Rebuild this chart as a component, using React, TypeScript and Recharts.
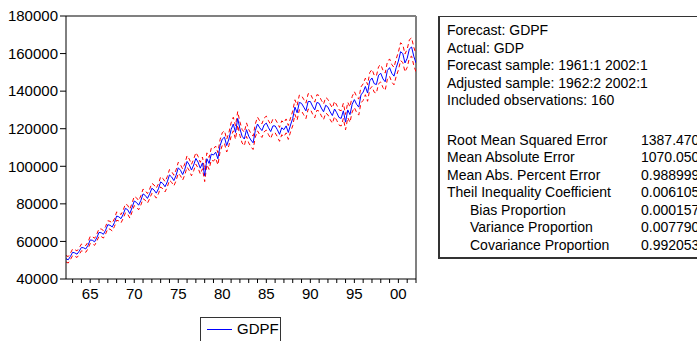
import { LineChart, Line, XAxis, YAxis, ReferenceLine } from "recharts";

// Static forecast GDPF, quarterly, sample 1962:2 - 2002:1 (160 obs)
const sampleStart = 1962.25;

const gdpf = [
  50800, 50200, 52000,
  54200, 53900, 53200, 54800,
  56800, 56600, 56000, 57900,
  60800, 60600, 59800, 62000,
  64800, 64600, 63800, 66000,
  68900, 68600, 67700, 70000,
  73500, 73100, 72100, 74500,
  77600, 76900, 74800, 78000,
  81500, 80800, 79300, 81800,
  85300, 84500, 82900, 85300,
  88300, 87400, 85700, 88000,
  91700, 90800, 89100, 91700,
  95400, 94300, 92400, 95200,
  99200, 97900, 95600, 98500,
  102600, 100800, 98000, 100700,
  104200, 102200, 99000, 101800,
  95000, 104000, 101500, 106500,
  106000, 107500, 104000, 111000,
  114500, 115500, 111000, 114500,
  119500, 122500, 118000, 125500,
  120000, 116000, 114500, 119500,
  116000, 114000, 112500, 119000,
  122500, 120500, 119000, 122000,
  123000, 120500, 118500, 121500,
  121500, 119500, 117000, 120500,
  119500, 121500, 118000, 122000,
  125500, 131500, 128500, 134000,
  133500, 131500, 129500, 134500,
  134500, 132000, 130000, 134000,
  133500, 131000, 129000, 132500,
  131500, 129000, 127000, 130500,
  128500, 126000, 125500, 129500,
  123500, 130000, 127500, 133000,
  135500, 133000, 131500, 138000,
  139500, 142500, 139000, 145500,
  147000, 144000, 143500, 148500,
  149500, 146500, 145000, 151000,
  152500, 149500, 148000, 152500,
  156000, 161000, 160000, 155000,
  157500, 162500, 163500, 158500,
  155000,
];

// +/- 2 S.E. half width of the forecast band
const band = [
  1700, 1700, 1700,
  1750, 1750, 1750, 1750,
  1800, 1800, 1800, 1800,
  1900, 1900, 1900, 1900,
  2000, 2000, 2000, 2000,
  2100, 2100, 2100, 2100,
  2200, 2200, 2200, 2200,
  2350, 2350, 2350, 2350,
  2450, 2450, 2450, 2450,
  2550, 2550, 2550, 2550,
  2650, 2650, 2650, 2650,
  2750, 2750, 2750, 2750,
  2850, 2850, 2850, 2850,
  2950, 2950, 2950, 2950,
  3050, 3050, 3050, 3050,
  3100, 3100, 3100, 3100,
  3150, 3150, 3150, 3150,
  3250, 3250, 3250, 3250,
  3400, 3400, 3400, 3400,
  3600, 3600, 3600, 3600,
  3600, 3600, 3600, 3600,
  3550, 3550, 3550, 3550,
  3650, 3650, 3650, 3650,
  3700, 3700, 3700, 3700,
  3700, 3700, 3700, 3700,
  3700, 3700, 3700, 3700,
  3900, 3900, 3900, 3900,
  4100, 4100, 4100, 4100,
  4150, 4150, 4150, 4150,
  4150, 4150, 4150, 4150,
  4100, 4100, 4100, 4100,
  4050, 4050, 4050, 4050,
  4100, 4100, 4100, 4100,
  4250, 4250, 4250, 4250,
  4400, 4400, 4400, 4400,
  4550, 4550, 4550, 4550,
  4600, 4600, 4600, 4600,
  4650, 4650, 4650, 4650,
  4750, 4750, 4750, 4750,
  4850, 4850, 4850, 4850,
  4800,
];

const yTicks = [40000, 60000, 80000, 100000, 120000, 140000, 160000, 180000];
const yearTicks = [
  1963, 1964, 1965, 1966, 1967, 1968, 1969, 1970, 1971, 1972,
  1973, 1974, 1975, 1976, 1977, 1978, 1979, 1980, 1981, 1982,
  1983, 1984, 1985, 1986, 1987, 1988, 1989, 1990, 1991, 1992,
  1993, 1994, 1995, 1996, 1997, 1998, 1999, 2000, 2001, 2002,
];
const labelYears = [1965, 1970, 1975, 1980, 1985, 1990, 1995, 2000];
const xTickLabels = ["65", "70", "75", "80", "85", "90", "95", "00"];

const statsTop = [
  "Forecast: GDPF",
  "Actual: GDP",
  "Forecast sample: 1961:1 2002:1",
  "Adjusted sample: 1962:2 2002:1",
  "Included observations: 160",
];
const statNames = [
  "Root Mean Squared Error",
  "Mean Absolute Error",
  "Mean Abs. Percent Error",
  "Theil Inequality Coefficient",
  "Bias Proportion",
  "Variance Proportion",
  "Covariance Proportion",
];
const statValues = ["1387.470", "1070.050", "0.988999", "0.006105", "0.000157", "0.007790", "0.992053"];
const statIndent = [false, false, false, false, true, true, true];

const FONT = "'Liberation Sans', Arial, sans-serif";

const rows = gdpf.map((v, i) => ({
  t: sampleStart + i / 4,
  f: v,
  up: v + band[i],
  lo: v - band[i],
}));

const YearTick = ({ x, y, payload }: any) => {
  const k = labelYears.indexOf(payload.value);
  if (k < 0) return <g />;
  return (
    <text x={x} y={y} dy="0.71em" textAnchor="middle" fontSize={15} fill="#000" fontFamily={FONT}>
      {xTickLabels[k]}
    </text>
  );
};

export default function App() {
  const lh = 17.5;
  return (
    <div
      style={{
        position: "fixed",
        left: 0,
        top: 0,
        width: 697,
        height: 341,
        overflow: "hidden",
        background: "#fff",
        fontFamily: FONT,
      }}
    >
      <div style={{ position: "absolute", left: 0, top: 0 }}>
        <LineChart width={430} height={341} data={rows} margin={{ top: 16, right: 14, bottom: 0, left: 0 }}>
          <XAxis
            dataKey="t"
            type="number"
            domain={[sampleStart, 2002]}
            ticks={yearTicks}
            interval={0}
            tickSize={4}
            tickMargin={5}
            tick={<YearTick />}
            stroke="#000"
            height={62}
            allowDataOverflow
          />
          <YAxis
            domain={[40000, 180000]}
            ticks={yTicks}
            interval={0}
            tickSize={6}
            tickMargin={2}
            width={66}
            stroke="#000"
            tick={{ fontSize: 15, fill: "#000", fontFamily: FONT }}
            allowDataOverflow
          />
          <ReferenceLine y={180000} stroke="#808080" strokeWidth={2} />
          <ReferenceLine x={2002} stroke="#808080" strokeWidth={2} />
          <Line dataKey="up" type="linear" stroke="#ff0000" strokeWidth={1} strokeDasharray="4 3" dot={false} isAnimationActive={false} />
          <Line dataKey="lo" type="linear" stroke="#ff0000" strokeWidth={1} strokeDasharray="4 3" dot={false} isAnimationActive={false} />
          <Line dataKey="f" type="linear" stroke="#0000ff" strokeWidth={1} dot={false} isAnimationActive={false} />
        </LineChart>
      </div>

      {/* legend */}
      <div
        style={{
          position: "absolute",
          left: 200,
          top: 317,
          width: 81,
          height: 40,
          border: "1px solid #333",
          boxSizing: "border-box",
        }}
      >
        <div style={{ position: "absolute", left: 6, top: 11, width: 25, height: 1, background: "#0000ff" }} />
        <div style={{ position: "absolute", left: 36, top: 2, fontSize: 15, lineHeight: "18px", color: "#000" }}>GDPF</div>
      </div>

      {/* forecast evaluation table */}
      <div
        style={{
          position: "absolute",
          left: 438,
          top: 16,
          width: 300,
          height: 243,
          borderLeft: "2px solid #333",
          borderTop: "1px solid #333",
          borderBottom: "2px solid #333",
          boxSizing: "border-box",
        }}
      />
      {statsTop.map((s, i) => (
        <div
          key={s}
          style={{ position: "absolute", left: 447, top: 31 + i * lh - lh / 2, fontSize: 14, lineHeight: `${lh}px`, whiteSpace: "nowrap" }}
        >
          {s}
        </div>
      ))}
      {statNames.map((s, i) => (
        <div key={s}>
          <div
            style={{
              position: "absolute",
              left: statIndent[i] ? 470 : 447,
              top: 140.5 + i * lh - lh / 2,
              fontSize: 14,
              lineHeight: `${lh}px`,
              whiteSpace: "nowrap",
            }}
          >
            {s}
          </div>
          <div
            style={{ position: "absolute", left: 641, top: 140.5 + i * lh - lh / 2, fontSize: 14, lineHeight: `${lh}px`, whiteSpace: "nowrap" }}
          >
            {statValues[i]}
          </div>
        </div>
      ))}
    </div>
  );
}
